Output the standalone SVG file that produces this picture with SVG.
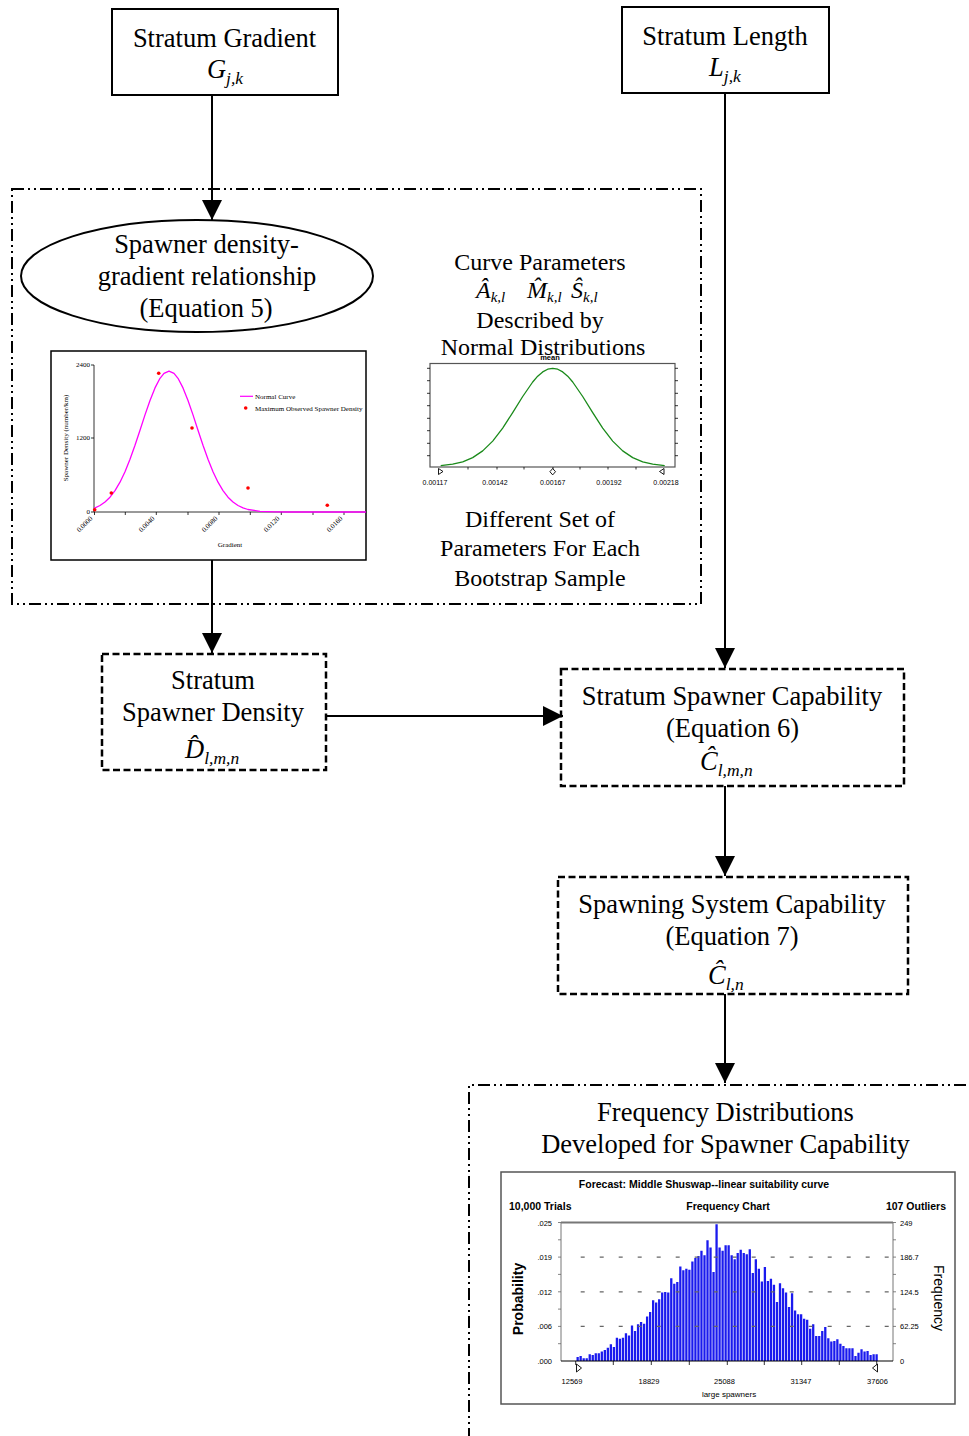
<svg xmlns="http://www.w3.org/2000/svg" width="969" height="1436" viewBox="0 0 969 1436">
<style>
.s{font-family:"Liberation Serif","Times New Roman",serif;font-size:26.5px;fill:#000}
.r{font-size:24px}
.it{font-style:italic}
.sub{font-size:17.5px;font-style:italic}
.sub2{font-size:15px;font-style:italic}
.box{fill:#fff;stroke:#000;stroke-width:2}
.dash{fill:#fff;stroke:#000;stroke-width:2.5;stroke-dasharray:7 3.5}
.dd{fill:none;stroke:#000;stroke-width:2;stroke-dasharray:12 4 2 4 2 4}
.conn{stroke:#000;stroke-width:2;fill:none}
.a{marker-end:url(#ah)}
.sans{font-family:"Liberation Sans",Arial,sans-serif;fill:#000}
.tiny{font-family:"Liberation Serif","Times New Roman",serif;font-size:7px;fill:#000}
.t7{font-size:7px}
.t8{font-size:7.5px}
.hb{font-size:10.5px;font-weight:bold}
.tk{stroke:#000;stroke-width:0.8}
.gtk{stroke:#666;stroke-width:0.8}
</style>
<defs>
<marker id="ah" markerUnits="userSpaceOnUse" markerWidth="20" markerHeight="20" refX="20" refY="10" orient="auto">
<path d="M0,0 L20,10 L0,20 Z" fill="#000"/>
</marker>
</defs>
<rect width="969" height="1436" fill="#fff"/>

<!-- containers -->
<g id="bootstrap-group">
<rect class="dd" x="12" y="189" width="689" height="415"/>
</g>
<g id="frequency-group">
<path class="dd" d="M469,1440 V1085 H975"/>
</g>

<g id="stratum-gradient">
<rect class="box" x="112" y="9" width="226" height="86"/>
<text class="s" x="224.5" y="47" text-anchor="middle">Stratum Gradient</text>
<text class="s" x="225" y="78" text-anchor="middle"><tspan class="it">G</tspan><tspan class="sub" dy="6">j,k</tspan></text>
</g>

<g id="stratum-length">
<rect class="box" x="622" y="7" width="207" height="86"/>
<text class="s" x="725" y="45" text-anchor="middle">Stratum Length</text>
<text class="s" x="725" y="76" text-anchor="middle"><tspan class="it">L</tspan><tspan class="sub" dy="6">j,k</tspan></text>
</g>

<g id="density-gradient">
<ellipse cx="197" cy="276" rx="176" ry="56" fill="#fff" stroke="#000" stroke-width="2"/>
<text class="s" x="206.5" y="253" text-anchor="middle">Spawner density-</text>
<text class="s" x="207" y="285" text-anchor="middle">gradient relationship</text>
<text class="s" x="206" y="317" text-anchor="middle">(Equation 5)</text>
</g>

<g id="gradient-chart">
<rect x="51" y="351" width="315" height="209" fill="#fff" stroke="#000" stroke-width="1.5"/>
<line class="tk" x1="94" y1="365" x2="94" y2="512"/>
<line class="tk" x1="94" y1="512" x2="366" y2="512"/>
<path class="tk" d="M91,365H94M91,438H94M91,512H94M94.5,512V515M125.3,512V515M156.3,512V515M188,512V515M219,512V515M250.3,512V515M281.3,512V515M313,512V515M344,512V515"/>
<polyline fill="none" stroke="#ff00ff" stroke-width="1.3" stroke-linejoin="round" points="94,508.3 100,505.5 105,502.0 110,497.2 115,490.6 120,482.2 125,471.7 130,459.3 135,445.3 140,430.2 145,414.9 150,400.5 155,387.9 160,378.3 164,373.4 169,371.1 174,373.4 178,378.3 183,387.9 188,400.5 193,414.9 198,430.2 203,445.3 208,459.3 213,471.7 218,482.2 223,490.6 228,497.2 233,502.0 238,505.5 243,507.9 248,509.5 260,511.3 275,511.9 290,512 366,512"/>
<g fill="#ff0000">
<circle cx="94.7" cy="509.7" r="1.8"/>
<circle cx="111.3" cy="493" r="1.8"/>
<circle cx="158.7" cy="373.3" r="1.8"/>
<circle cx="192" cy="428" r="1.8"/>
<circle cx="248" cy="488" r="1.8"/>
<circle cx="327.3" cy="505.3" r="1.8"/>
<circle cx="245.7" cy="408" r="1.8"/>
</g>
<line x1="240" y1="396.3" x2="253" y2="396.3" stroke="#ff00ff" stroke-width="1.2"/>
<text class="tiny" x="255" y="398.5">Normal Curve</text>
<text class="tiny" x="255" y="410.5">Maximum Observed Spawner Density</text>
<text class="tiny" x="90" y="367" text-anchor="end">2400</text>
<text class="tiny" x="90" y="440" text-anchor="end">1200</text>
<text class="tiny" x="90" y="514" text-anchor="end">0</text>
<text class="tiny" transform="translate(68,438) rotate(-90)" text-anchor="middle">Spawner Density (number/km)</text>
<text class="tiny" transform="translate(93,519) rotate(-45)" text-anchor="end">0.0000</text>
<text class="tiny" transform="translate(155,519) rotate(-45)" text-anchor="end">0.0040</text>
<text class="tiny" transform="translate(218,519) rotate(-45)" text-anchor="end">0.0080</text>
<text class="tiny" transform="translate(280,519) rotate(-45)" text-anchor="end">0.0120</text>
<text class="tiny" transform="translate(343,519) rotate(-45)" text-anchor="end">0.0160</text>
<text class="tiny" x="230" y="547" text-anchor="middle">Gradient</text>
</g>

<g id="curve-parameters">
<text class="s r" x="540" y="270" text-anchor="middle">Curve Parameters</text>
<text class="s r" y="298"><tspan x="476" class="it">Â</tspan><tspan class="sub2" dy="4">k,l</tspan><tspan x="527" dy="-4" class="it">M̂</tspan><tspan class="sub2" dy="4">k,l</tspan><tspan x="571" dy="-4" class="it">Ŝ</tspan><tspan class="sub2" dy="4">k,l</tspan></text>
<text class="s r" x="540" y="328" text-anchor="middle">Described by</text>
<text class="s r" x="543" y="355" text-anchor="middle">Normal Distributions</text>
</g>

<g id="normal-chart">
<rect x="430" y="363.5" width="245" height="103.5" fill="#fff" stroke="#555" stroke-width="1.2"/>
<text class="sans" x="550" y="360" text-anchor="middle" font-size="7.5" font-weight="bold">mean</text>
<path class="tk" d="M427,368.3H430M427,380.7H430M427,393.3H430M427,405.7H430M427,418.3H430M427,430.7H430M427,443.3H430M427,455.7H430M675,368.3H678M675,380.7H678M675,393.3H678M675,405.7H678M675,418.3H678M675,430.7H678M675,443.3H678M675,455.7H678M468,467V469.5M497,467V469.5M524,467V469.5M553,467V469.5M580,467V469.5M608,467V469.5M636,467V469.5"/>
<polyline fill="none" stroke="#1a8a1a" stroke-width="1.3" stroke-linejoin="round" points="440.7,465.6 452.7,464.2 462.7,461.8 472.7,457.6 482.7,450.9 492.7,441.1 502.7,428.1 512.7,412.6 522.7,396.5 532.7,382.0 537.7,376.2 542.7,371.9 547.7,369.2 552.7,368.3 557.7,369.2 562.7,371.9 567.7,376.2 572.7,382.0 582.7,396.5 592.7,412.6 602.7,428.1 612.7,441.1 622.7,450.9 632.7,457.6 642.7,461.8 652.7,464.2 664.7,465.6"/>
<g fill="#fff" stroke="#000" stroke-width="0.9">
<path d="M438.5,468.5 L443,471.5 L438.5,474.5 Z"/>
<path d="M552.7,468.5 L555.5,471.7 L552.7,474.9 L549.9,471.7 Z"/>
<path d="M664,468.5 L659.5,471.5 L664,474.5 Z"/>
</g>
<g class="sans t7" text-anchor="middle">
<text x="435" y="485">0.00117</text>
<text x="495" y="485">0.00142</text>
<text x="552.7" y="485">0.00167</text>
<text x="609" y="485">0.00192</text>
<text x="666" y="485">0.00218</text>
</g>
</g>

<g id="bootstrap-note">
<text class="s r" x="540" y="527" text-anchor="middle">Different Set of</text>
<text class="s r" x="540" y="556" text-anchor="middle">Parameters For Each</text>
<text class="s r" x="540" y="586" text-anchor="middle">Bootstrap Sample</text>
</g>

<g id="stratum-spawner-density">
<rect class="dash" x="102" y="654" width="224" height="116"/>
<text class="s" x="213" y="689" text-anchor="middle">Stratum</text>
<text class="s" x="213" y="721" text-anchor="middle">Spawner Density</text>
<text class="s" x="185" y="758"><tspan class="it">D̂</tspan><tspan class="sub" dy="6">l,m,n</tspan></text>
</g>

<g id="stratum-spawner-capability">
<rect class="dash" x="561" y="669" width="343" height="117"/>
<text class="s" x="732" y="705" text-anchor="middle">Stratum Spawner Capability</text>
<text class="s" x="732.5" y="737" text-anchor="middle">(Equation 6)</text>
<text class="s" x="700" y="770"><tspan class="it">Ĉ</tspan><tspan class="sub" dy="6">l,m,n</tspan></text>
</g>

<g id="spawning-system-capability">
<rect class="dash" x="558" y="877" width="350" height="117"/>
<text class="s" x="732" y="913" text-anchor="middle">Spawning System Capability</text>
<text class="s" x="732" y="945" text-anchor="middle">(Equation 7)</text>
<text class="s" x="708" y="984"><tspan class="it">Ĉ</tspan><tspan class="sub" dy="6">l,n</tspan></text>
</g>

<g id="frequency-distributions">
<text class="s" x="725.5" y="1121" text-anchor="middle">Frequency Distributions</text>
<text class="s" x="725.5" y="1153" text-anchor="middle">Developed for Spawner Capability</text>
</g>

<g id="frequency-chart">
<rect x="501" y="1172" width="454" height="232" fill="#fff" stroke="#555" stroke-width="1.5"/>
<text class="sans hb" x="704" y="1188" text-anchor="middle">Forecast: Middle Shuswap--linear suitability curve</text>
<text class="sans hb" x="509" y="1210">10,000 Trials</text>
<text class="sans hb" x="728" y="1210" text-anchor="middle">Frequency Chart</text>
<text class="sans hb" x="946" y="1210" text-anchor="end">107 Outliers</text>
<line x1="561" y1="1222.5" x2="561" y2="1361" stroke="#777" stroke-width="1"/>
<line x1="893" y1="1222.5" x2="893" y2="1361" stroke="#777" stroke-width="1"/>
<path class="gtk" d="M558,1222.5H561M558,1239.8H561M558,1257.1H561M558,1274.4H561M558,1291.8H561M558,1309.1H561M558,1326.4H561M558,1343.7H561M893,1222.5H896M893,1239.8H896M893,1257.1H896M893,1274.4H896M893,1291.8H896M893,1309.1H896M893,1326.4H896M893,1343.7H896"/>
<path transform="translate(576.5,1361) scale(3.02,-0.5562)" fill="#1a1aee" d="M0 0v7h.76v-7zM1 0v9h.76v-9zM2 0v5h.76v-5zM3 0v5h.76v-5zM4 0v12h.76v-12zM5 0v11h.76v-11zM6 0v14h.76v-14zM7 0v14h.76v-14zM8 0v17h.76v-17zM9 0v20h.76v-20zM10 0v24h.76v-24zM11 0v30h.76v-30zM12 0v25h.76v-25zM13 0v42h.76v-42zM14 0v40h.76v-40zM15 0v42h.76v-42zM16 0v50h.76v-50zM17 0v46h.76v-46zM18 0v64h.76v-64zM19 0v54h.76v-54zM20 0v66h.76v-66zM21 0v70h.76v-70zM22 0v67h.76v-67zM23 0v80h.76v-80zM24 0v88h.76v-88zM25 0v109h.76v-109zM26 0v105h.76v-105zM27 0v111h.76v-111zM28 0v123h.76v-123zM29 0v124h.76v-124zM30 0v123h.76v-123zM31 0v149h.76v-149zM32 0v139h.76v-139zM33 0v142h.76v-142zM34 0v170h.76v-170zM35 0v163h.76v-163zM36 0v166h.76v-166zM37 0v164h.76v-164zM38 0v179h.76v-179zM39 0v185h.76v-185zM40 0v189h.76v-189zM41 0v198h.76v-198zM42 0v190h.76v-190zM43 0v217h.76v-217zM44 0v204h.76v-204zM45 0v160h.76v-160zM46 0v246h.76v-246zM47 0v204h.76v-204zM48 0v198h.76v-198zM49 0v208h.76v-208zM50 0v208h.76v-208zM51 0v190h.76v-190zM52 0v183h.76v-183zM53 0v194h.76v-194zM54 0v200h.76v-200zM55 0v194h.76v-194zM56 0v192h.76v-192zM57 0v201h.76v-201zM58 0v158h.76v-158zM59 0v183h.76v-183zM60 0v166h.76v-166zM61 0v143h.76v-143zM62 0v169h.76v-169zM63 0v144h.76v-144zM64 0v148h.76v-148zM65 0v137h.76v-137zM66 0v106h.76v-106zM67 0v140h.76v-140zM68 0v131h.76v-131zM69 0v123h.76v-123zM70 0v97h.76v-97zM71 0v122h.76v-122zM72 0v91h.76v-91zM73 0v84h.76v-84zM74 0v84h.76v-84zM75 0v76h.76v-76zM76 0v74h.76v-74zM77 0v58h.76v-58zM78 0v66h.76v-66zM79 0v45h.76v-45zM80 0v45h.76v-45zM81 0v54h.76v-54zM82 0v61h.76v-61zM83 0v41h.76v-41zM84 0v35h.76v-35zM85 0v36h.76v-36zM86 0v39h.76v-39zM87 0v31h.76v-31zM88 0v27h.76v-27zM89 0v23h.76v-23zM90 0v23h.76v-23zM91 0v23h.76v-23zM92 0v9h.76v-9zM93 0v15h.76v-15zM94 0v21h.76v-21zM95 0v17h.76v-17zM96 0v18h.76v-18zM97 0v11h.76v-11zM98 0v12h.76v-12zM99 0v12h.76v-12z"/>
<g stroke="#666" stroke-width="1.3" stroke-dasharray="4 15">
<line x1="580.7" y1="1257.1" x2="892" y2="1257.1"/>
<line x1="580.7" y1="1291.8" x2="892" y2="1291.8"/>
<line x1="580.7" y1="1326.4" x2="892" y2="1326.4"/>
</g>
<line x1="561" y1="1222.5" x2="893" y2="1222.5" stroke="#777" stroke-width="2"/>
<line x1="561" y1="1361" x2="893" y2="1361" stroke="#000" stroke-width="1.2"/>
<path class="tk" d="M575.7,1361V1365M613.3,1361V1365M651.3,1361V1365M689.3,1361V1365M727.3,1361V1365M764.3,1361V1365M801.7,1361V1365M839.3,1361V1365M876.7,1361V1365"/>
<g fill="#fff" stroke="#000" stroke-width="0.9">
<path d="M576.5,1364 L581.5,1368 L576.5,1372 Z"/>
<path d="M877.5,1364 L872.5,1368 L877.5,1372 Z"/>
</g>
<g class="sans t8" text-anchor="end">
<text x="552" y="1225.5">.025</text>
<text x="552" y="1260">.019</text>
<text x="552" y="1294.5">.012</text>
<text x="552" y="1329">.006</text>
<text x="552" y="1363.5">.000</text>
</g>
<g class="sans t8">
<text x="900" y="1225.5">249</text>
<text x="900" y="1260">186.7</text>
<text x="900" y="1294.5">124.5</text>
<text x="900" y="1329">62.25</text>
<text x="900" y="1363.5">0</text>
</g>
<g class="sans t8" text-anchor="middle">
<text x="572" y="1384">12569</text>
<text x="649" y="1384">18829</text>
<text x="724.5" y="1384">25088</text>
<text x="801" y="1384">31347</text>
<text x="877.5" y="1384">37606</text>
<text x="729" y="1397" font-size="8">large spawners</text>
</g>
<text class="sans" transform="translate(523,1299) rotate(-90)" text-anchor="middle" font-size="14" font-weight="bold">Probability</text>
<text class="sans" transform="translate(934,1298) rotate(90)" text-anchor="middle" font-size="14">Frequency</text>
</g>

<g id="connectors">
<line class="conn a" x1="212" y1="95" x2="212" y2="220"/>
<line class="conn a" x1="725" y1="93" x2="725" y2="668"/>
<line class="conn a" x1="212" y1="560" x2="212" y2="653"/>
<line class="conn a" x1="326" y1="716" x2="563" y2="716"/>
<line class="conn a" x1="725" y1="786" x2="725" y2="876"/>
<line class="conn a" x1="725" y1="994" x2="725" y2="1083"/>
</g>
</svg>
